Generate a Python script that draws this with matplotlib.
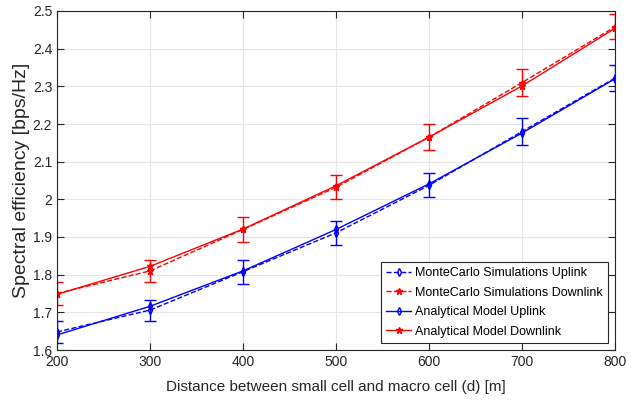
import matplotlib
matplotlib.use('Agg')
import matplotlib.pyplot as plt
import numpy as np

plt.rcParams['font.family'] = ['Liberation Sans', 'DejaVu Sans']

d = [200, 300, 400, 500, 600, 700, 800]
mc_up = [1.648, 1.706, 1.808, 1.911, 2.037, 2.180, 2.322]
mc_up_err = [0.030, 0.028, 0.032, 0.032, 0.032, 0.035, 0.035]
mc_down = [1.750, 1.810, 1.920, 2.032, 2.165, 2.310, 2.458]
mc_down_err = [0.030, 0.030, 0.032, 0.032, 0.035, 0.035, 0.033]
an_up = [1.640, 1.716, 1.810, 1.920, 2.041, 2.176, 2.320]
an_down = [1.748, 1.822, 1.921, 2.036, 2.165, 2.301, 2.454]

fig = plt.figure(figsize=(6.44, 4.04), dpi=100)
ax = fig.add_axes([57/644, 1-350/404, (615-57)/644, (350-11)/404])

# error bars drawn separately so the legend shows plain lines
ax.errorbar(d, mc_up, yerr=mc_up_err, color='blue', ls='none', capsize=4, elinewidth=1)
ax.errorbar(d, mc_down, yerr=mc_down_err, color='red', ls='none', capsize=4, elinewidth=1)
ax.plot(d, mc_up, color='blue', ls='--', lw=1, marker='d', ms=4, mfc='none',
        label='MonteCarlo Simulations Uplink')
ax.plot(d, mc_down, color='red', ls='--', lw=1, marker='*', ms=5,
        label='MonteCarlo Simulations Downlink')
ax.plot(d, an_up, color='blue', ls='-', lw=1, marker='d', ms=4, mfc='none',
        label='Analytical Model Uplink')
ax.plot(d, an_down, color='red', ls='-', lw=1, marker='*', ms=5,
        label='Analytical Model Downlink')

ax.set_xlim(200, 800)
ax.set_ylim(1.6, 2.5)
ax.set_xticks(d)
ax.set_yticks(np.arange(1.6, 2.51, 0.1))
ax.set_yticklabels(['1.6', '1.7', '1.8', '1.9', '2', '2.1', '2.2', '2.3', '2.4', '2.5'])
ax.grid(True, color='#e6e6e6', lw=0.8)
ax.set_axisbelow(True)
ax.tick_params(direction='in', top=True, right=True, labelsize=10, colors='#262626', length=5)
for s in ax.spines.values():
    s.set_color('#262626')
ax.set_xlabel('Distance between small cell and macro cell (d) [m]', fontsize=11, color='#262626',
              labelpad=8)
ax.set_ylabel('Spectral efficiency [bps/Hz]', fontsize=14, color='#262626', labelpad=2)

leg = ax.legend(loc='lower right', fontsize=9, fancybox=False, edgecolor='#262626',
                framealpha=1, handlelength=2.0, handletextpad=0.3, borderpad=0.4,
                labelspacing=0.6, borderaxespad=0.6)
leg.get_frame().set_linewidth(0.8)

fig.savefig('out.png', dpi=100)
